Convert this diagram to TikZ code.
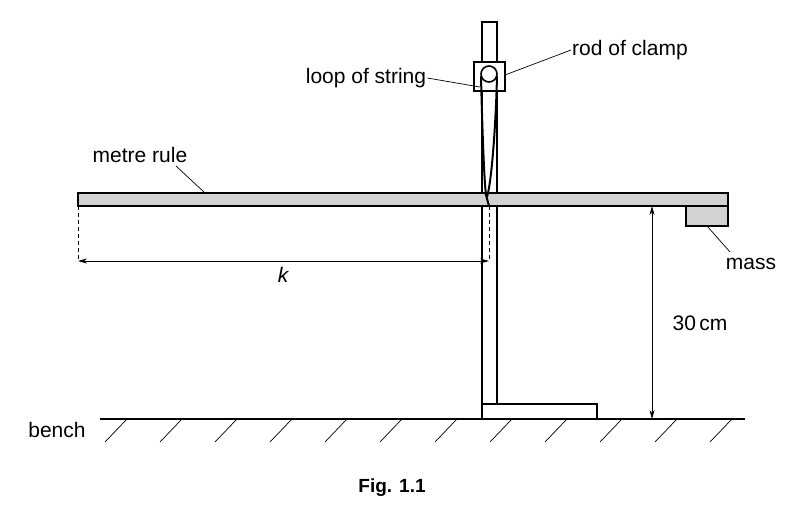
\documentclass[tikz,border=0pt]{standalone}
\usepackage{fontspec}
\setmainfont{Liberation Sans}
\usetikzlibrary{arrows.meta}
\begin{document}
\begin{tikzpicture}[x=1pt,y=-1pt,
  lbl/.style={font=\fontsize{21}{24}\selectfont, inner sep=1pt},
  thick/.style={line width=1.6pt},
  thin/.style={line width=0.7pt},
  dim/.style={line width=0.7pt,{Stealth[length=9pt,width=5pt]}-{Stealth[length=9pt,width=5pt]}}]
\useasboundingbox (0,0) rectangle (787,506);
% bench
\draw[thick] (100,419) coordinate (b1) -- (745,419) coordinate (b2);
\foreach \x in {127,182,237,292,347,402,457,512,567,622,677,732}
  \draw[thin] (\x,419) -- (\x-22,442);
% rod and base
\draw[thick,fill=white] (482,419) rectangle (597,404);
\draw[thick,fill=white] (482,22) rectangle (497,404);
% dashed
\draw[thin,dash pattern=on 4pt off 3pt] (78,206) -- (78,261);
\draw[thin,dash pattern=on 4pt off 3pt] (489,206) -- (489,261);
% rule
\draw[thick,fill=gray!35] (78,193) rectangle (728,206);
% mass
\draw[thick,fill=gray!35] (686,206) rectangle (728,226);
% clamp
\draw[thick,fill=white] (474,62) rectangle (505,91);
\draw[thick,fill=white] (489,74) circle (8);
% string
\draw[line width=2pt] (481,76) .. controls (482,120) and (484,180) .. (486,195) -- (489,206);
\draw[line width=2pt] (497,76) .. controls (496,120) and (492,180) .. (487,197);
% dimensions
\coordinate (kL) at (78,261); \coordinate (kR) at (489,261);
\draw[dim] (kL) -- (kR);
\coordinate (hT) at (652,206); \coordinate (hB) at (652,419);
\draw[dim] (hT) -- (hB);
% labels
\node[lbl] (k) at (283,275) {\itshape k};
\node[lbl] (h) at (700,323) {30\,cm};
\node[lbl] (mr) at (140,155) {metre rule};
\draw[thin] (176,166) -- (205,193);
\node[lbl] (ls) at (366,78) {loop of string};
\draw[thin] (ls.east) -- (480,87);
\node[lbl] (rc) at (630,50) {rod of clamp};
\draw[thin] (505,75) -- (rc.west);
\node[lbl] (ms) at (751,264) {mass};
\draw[thin] (707,226) -- (730,252);
\node[lbl] (bn) at (57,430) {bench};
\node[lbl,font=\fontsize{19}{22}\selectfont\bfseries] (fig) at (392,488) {Fig. 1.1};
\end{tikzpicture}
\end{document}
